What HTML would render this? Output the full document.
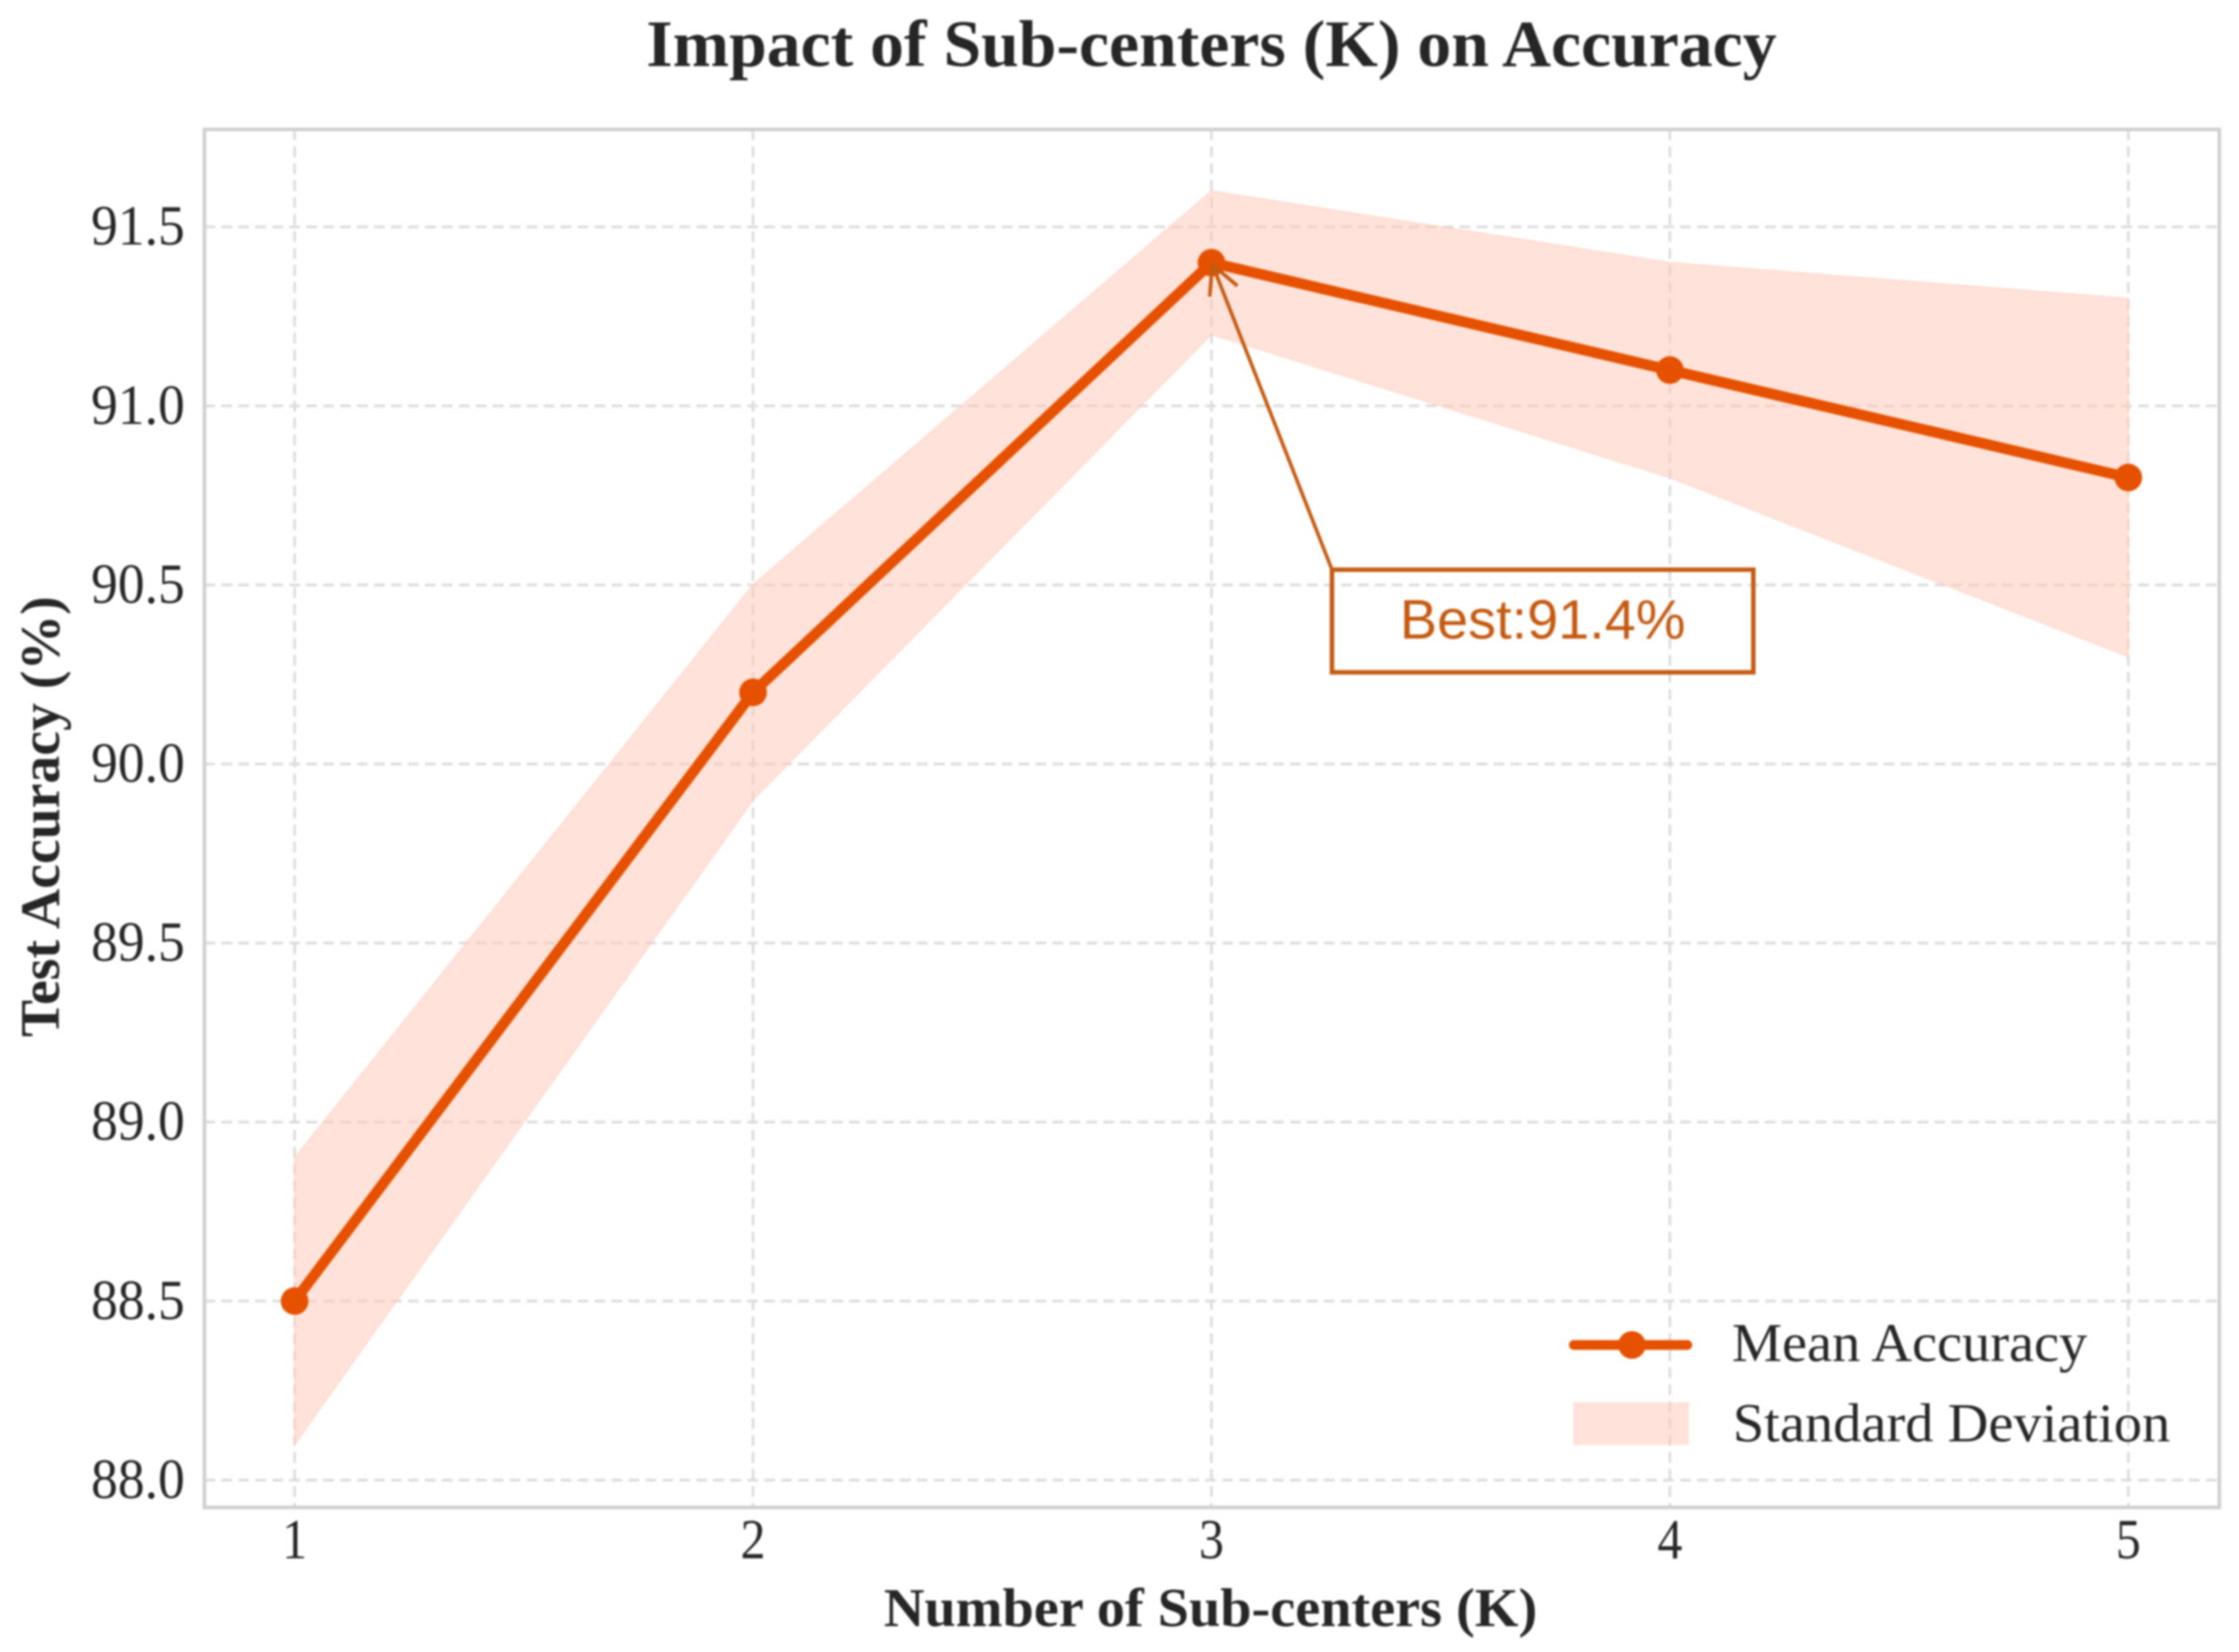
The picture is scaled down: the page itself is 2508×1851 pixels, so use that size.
<!DOCTYPE html>
<html lang="en">
<head>
<meta charset="utf-8">
<title>Impact of Sub-centers (K) on Accuracy</title>
<style>
  html, body { margin: 0; padding: 0; background: #fff; }
  body { width: 2508px; height: 1851px; overflow: hidden; }
  svg { display: block; filter: blur(1px); }
  text { font-family: "Liberation Serif", "Times New Roman", serif; fill: #262626; }
  .bold { font-weight: 700; }
</style>
</head>
<body>
<svg id="chart" xmlns="http://www.w3.org/2000/svg" width="2508" height="1851" viewBox="0 0 2508 1851">
  <rect x="0" y="0" width="2508" height="1851" fill="#ffffff"/>
  <text class="bold" x="1357" y="74" font-size="74" text-anchor="middle" textLength="1266" lengthAdjust="spacingAndGlyphs">Impact of Sub-centers (K) on Accuracy</text>
  <g id="grid"></g>
  <g id="band"></g>
  <g id="series"></g>
  <rect x="229" y="145" width="2257" height="1544" fill="none" stroke="#cfcfcf" stroke-width="4"/>
  <g id="yticks"></g>
  <g id="xticks"></g>
  <text class="bold" x="1356" y="1822" font-size="61" text-anchor="middle" textLength="732" lengthAdjust="spacingAndGlyphs">Number of Sub-centers (K)</text>
  <text class="bold" transform="translate(66 915) rotate(-90)" x="0" y="0" font-size="62" text-anchor="middle" textLength="494" lengthAdjust="spacingAndGlyphs">Test Accuracy (%)</text>
  <g id="annotation"></g>
  <g id="legend">
    <g>
      <line x1="1763" y1="1507" x2="1890" y2="1507" stroke="#e65100" stroke-width="11" stroke-linecap="round"/>
      <circle cx="1828" cy="1507" r="15.5" fill="#e65100"/>
      <text x="1940" y="1525" font-size="61" textLength="398" lengthAdjust="spacingAndGlyphs">Mean Accuracy</text>
    </g>
    <g>
      <rect x="1762" y="1571" width="130" height="48" fill="#ffccbc" fill-opacity="0.55"/>
      <text x="1941" y="1615" font-size="61" textLength="490" lengthAdjust="spacingAndGlyphs">Standard Deviation</text>
    </g>
  </g>
</svg>
<script>
const categories = [1, 2, 3, 4, 5];
const meanAccuracy = [88.5, 90.2, 91.4, 91.1, 90.8];
const upperBound = [88.9, 90.5, 91.6, 91.4, 91.3];
const lowerBound = [88.1, 89.9, 91.2, 90.8, 90.3];
const yTickValues = [88.0, 88.5, 89.0, 89.5, 90.0, 90.5, 91.0, 91.5];
const yTickLabels = ["88.0", "88.5", "89.0", "89.5", "90.0", "90.5", "91.0", "91.5"];
const xTickLabels = ["1", "2", "3", "4", "5"];

const NS = "http://www.w3.org/2000/svg";
const plotLeft = 229, plotRight = 2486, plotTop = 145, plotBottom = 1689;

function xScale(v) { return 330 + (v - 1) * 513.5; }
function yScale(v) { return 254.2 + (91.5 - v) * 401.2; }
function make(tag, attrs, parent) {
  const el = document.createElementNS(NS, tag);
  for (const k in attrs) el.setAttribute(k, attrs[k]);
  parent.appendChild(el);
  return el;
}
const gridLayer = document.getElementById("grid");
const bandLayer = document.getElementById("band");
const seriesLayer = document.getElementById("series");
const yTickLayer = document.getElementById("yticks");
const xTickLayer = document.getElementById("xticks");
const annotationLayer = document.getElementById("annotation");
const gridStyle = { stroke: "#dcdcdc", "stroke-width": 3, "stroke-dasharray": "12 7", fill: "none" };

yTickValues.forEach(function (v, i) {
  const y = yScale(v);
  const line = make("line", Object.assign({ x1: plotLeft, x2: plotRight, y1: y, y2: y }, gridStyle), gridLayer);
  
  
  const label = make("text", { x: 207, y: y + 20, "font-size": 63, "text-anchor": "end", textLength: 105, lengthAdjust: "spacingAndGlyphs" }, yTickLayer);
  
  
  label.textContent = yTickLabels[i];
});

categories.forEach(function (c, i) {
  const x = xScale(c);
  const line = make("line", Object.assign({ x1: x, x2: x, y1: plotTop, y2: plotBottom }, gridStyle), gridLayer);
  
  
  const label = make("text", { x: x, y: 1746, "font-size": 63, "text-anchor": "middle", textLength: 28, lengthAdjust: "spacingAndGlyphs" }, xTickLayer);
  
  
  label.textContent = xTickLabels[i];
});

const upperPts = categories.map(function (c, i) { return xScale(c) + "," + yScale(upperBound[i]); });
const lowerPts = categories.map(function (c, i) { return xScale(c) + "," + yScale(lowerBound[i]); }).reverse();
const band = make("polygon", {
  points: upperPts.concat(lowerPts).join(" "),
  fill: "#ffccbc", "fill-opacity": 0.55, stroke: "#ffccbc", "stroke-opacity": 0.5, "stroke-width": 2
}, bandLayer);



const meanPts = categories.map(function (c, i) { return xScale(c) + "," + yScale(meanAccuracy[i]); });
const meanLine = make("polyline", {
  points: meanPts.join(" "), fill: "none", stroke: "#e65100", "stroke-width": 12, "stroke-linejoin": "round"
}, seriesLayer);



categories.forEach(function (c, i) {
  const dot = make("circle", { cx: xScale(c), cy: yScale(meanAccuracy[i]), r: 15.5, fill: "#e65100" }, seriesLayer);
  
  
});

const bestValue = Math.max.apply(null, meanAccuracy);
const bestIndex = meanAccuracy.indexOf(bestValue);
const tipX = xScale(categories[bestIndex]) + 1;
const tipY = yScale(bestValue) + 2;
const boxX = tipX + 134, boxY = tipY + 342, boxW = 472, boxH = 115;
const annotationColor = "#c55a11";

const arrowShaft = make("line", { x1: boxX, y1: boxY, x2: tipX, y2: tipY, stroke: annotationColor, "stroke-width": 4 }, annotationLayer);


const arrowHead = make("polyline", {
  points: (tipX - 3) + "," + (tipY + 36) + " " + tipX + "," + tipY + " " + (tipX + 28) + "," + (tipY + 24),
  fill: "none", stroke: annotationColor, "stroke-width": 4
}, annotationLayer);


const boxRect = make("rect", { x: boxX, y: boxY, width: boxW, height: boxH, fill: "#ffffff", "fill-opacity": 0, stroke: annotationColor, "stroke-width": 5 }, annotationLayer);


const boxText = make("text", {
  x: boxX + boxW / 2, y: boxY + 77, "font-size": 62, "text-anchor": "middle",
  textLength: 320, lengthAdjust: "spacingAndGlyphs",
  style: 'font-family:"Liberation Sans",Arial,sans-serif;fill:' + annotationColor
}, annotationLayer);


boxText.textContent = "Best:" + bestValue.toFixed(1) + "%";
</script>
</body>
</html>
